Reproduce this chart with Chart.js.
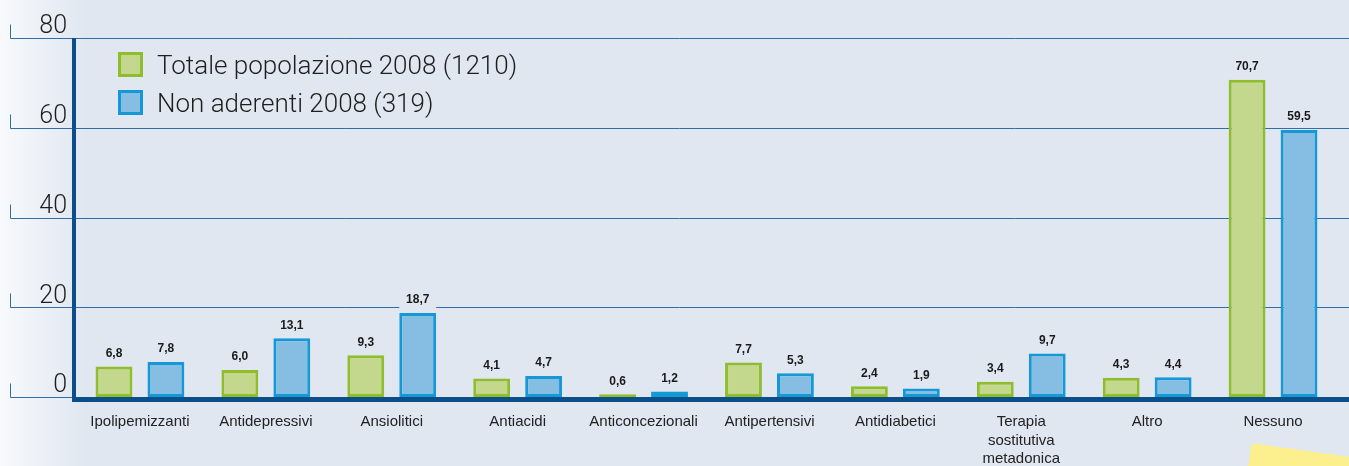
<!DOCTYPE html>
<html lang="it">
<head>
<meta charset="utf-8">
<title>Farmaci assunti</title>
<script src="https://cdn.jsdelivr.net/npm/chart.js@4.4.0/dist/chart.umd.min.js"></script>
<style>
  html, body { margin: 0; padding: 0; }
  body {
    width: 1349px; height: 466px; overflow: hidden; position: relative;
    background: linear-gradient(to right, #f8fafc 0px, #eef2f7 35px, #e1e7f1 85px);
    font-family: 'Liberation Sans', Arial, sans-serif;
  }
  #wrap { position: absolute; left: 0; top: 0; width: 1349px; height: 466px; }
  .legend { position: absolute; left: 118px; top: 52px; }
  .legend-item { display: flex; align-items: center; height: 25px; margin-bottom: 13px; }
  .legend-box { width: 19px; height: 19px; border: 3px solid; margin-right: 14px; }
  .legend-text { font-size: 26px; color: #1e1e1e; font-family: Roboto, 'Liberation Sans', sans-serif; font-weight: 300; }
  .sticker {
    position: absolute; left: 1248px; top: 452px; width: 130px; height: 40px;
    background: #fbef8e; transform: rotate(8deg); border-radius: 4px;
  }
</style>
</head>
<body>
<div id="wrap"><canvas id="barChart" width="1349" height="466"></canvas></div>
<div class="legend" id="legend"></div>
<div class="sticker"></div>
<script>
// --- data ---
const categories = [
  'Ipolipemizzanti', 'Antidepressivi', 'Ansiolitici', 'Antiacidi', 'Anticoncezionali',
  'Antipertensivi', 'Antidiabetici', ['Terapia', 'sostitutiva', 'metadonica'], 'Altro', 'Nessuno'
];
const totale2008 = [6.8, 6.0, 9.3, 4.1, 0.6, 7.7, 2.4, 3.4, 4.3, 70.7];
const nonAderenti2008 = [7.8, 13.1, 18.7, 4.7, 1.2, 5.3, 1.9, 9.7, 4.4, 59.5];
const seriesNames = ['Totale popolazione 2008 (1210)', 'Non aderenti 2008 (319)'];
const yTicks = [0, 20, 40, 60, 80];

const BG = '#e1e7f1';
const GRID = '#2f6ea6';
const AXIS = '#0c4f88';
const GREEN_FILL = '#c3d88c', GREEN_LINE = '#8fbd2c';
const BLUE_FILL = '#86bde3', BLUE_LINE = '#1498d6';

const fmt = v => v.toFixed(1).replace('.', ',');

// gridlines with the small left hooks, drawn under the bars
const gridPlugin = {
  id: 'customGrid',
  beforeDatasetsDraw(chart) {
    const { ctx, scales: { y } } = chart;
    ctx.save();
    ctx.strokeStyle = GRID;
    ctx.lineWidth = 1;
    yTicks.forEach(t => {
      const py = Math.round(y.getPixelForValue(t)) + 0.5;
      ctx.beginPath();
      ctx.moveTo(10.5, py - 14);
      ctx.lineTo(10.5, py);
      ctx.lineTo(chart.width, py);
      ctx.stroke();
    });
    ctx.restore();
  },
  afterDatasetsDraw(chart) {
    const { ctx, scales: { y } } = chart;
    // value labels with a patch of background behind them
    ctx.save();
    ctx.font = 'bold 12px "Liberation Sans", Arial, sans-serif';
    ctx.textAlign = 'center';
    ctx.textBaseline = 'middle';
    chart.data.datasets.forEach((ds, di) => {
      chart.getDatasetMeta(di).data.forEach((bar, i) => {
        const half = bar.width / 2;
        const ly = bar.y - 13;
        ctx.fillStyle = BG;
        ctx.fillRect(bar.x - half, ly - 8, bar.width, bar.y - 2 - (ly - 8));
        ctx.fillStyle = '#1a1a1a';
        ctx.fillText(fmt(ds.data[i]), bar.x, ly);
      });
    });
    // thick axes
    const y0 = y.getPixelForValue(0);
    const yTop = y.getPixelForValue(80);
    ctx.fillStyle = AXIS;
    ctx.fillRect(72, yTop, 4, y0 + 4 - yTop);
    ctx.fillRect(72, y0, chart.width - 72, 5);
    ctx.restore();
  }
};

new Chart(document.getElementById('barChart').getContext('2d'), {
  type: 'bar',
  data: {
    labels: categories,
    datasets: [
      {
        label: seriesNames[0],
        data: totale2008,
        backgroundColor: GREEN_FILL,
        borderColor: GREEN_LINE,
        borderWidth: 3,
        borderSkipped: false
      },
      {
        label: seriesNames[1],
        data: nonAderenti2008,
        backgroundColor: BLUE_FILL,
        borderColor: BLUE_LINE,
        borderWidth: 3,
        borderSkipped: false
      }
    ]
  },
  options: {
    responsive: false,
    animation: false,
    categoryPercentage: 0.825,
    barPercentage: 0.71,
    layout: { padding: { top: 38, right: 13, left: 0, bottom: 0 } },
    plugins: {
      legend: { display: false },
      tooltip: { enabled: false }
    },
    scales: {
      x: {
        grid: { display: false },
        border: { display: false },
        ticks: {
          color: '#222',
          padding: 8,
          maxRotation: 0,
          autoSkip: false,
          font: { size: 15, family: '"Liberation Sans", Arial, sans-serif', lineHeight: 1.23 }
        },
        afterFit: scale => { scale.height = 69; }
      },
      y: {
        min: 0,
        max: 80,
        grid: { display: false },
        border: { display: false },
        afterBuildTicks: scale => { scale.ticks = yTicks.map(v => ({ value: v })); },
        afterFit: scale => { scale.width = 77; },
        ticks: {
          color: '#1e1e1e',
          padding: 2,
          labelOffset: -11,
          font: { size: 25, weight: '300', family: 'Roboto, "Liberation Sans", sans-serif' }
        }
      }
    }
  },
  plugins: [gridPlugin]
});

// legend built from the series names
const legendEl = document.getElementById('legend');
[[GREEN_FILL, GREEN_LINE], [BLUE_FILL, BLUE_LINE]].forEach(([fill, line], i) => {
  const item = document.createElement('div');
  item.className = 'legend-item';
  item.innerHTML = `<div class="legend-box" style="background:${fill};border-color:${line}"></div>` +
    `<span class="legend-text">${seriesNames[i]}</span>`;
  legendEl.appendChild(item);
});
</script>
</body>
</html>
